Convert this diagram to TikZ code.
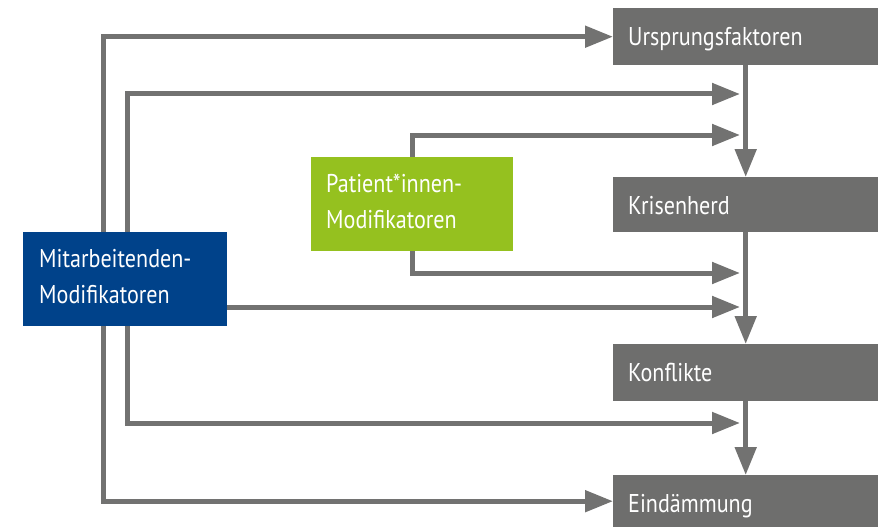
\documentclass[tikz,border=0pt]{standalone}
\usepackage{fontspec}
\setmainfont[FakeStretch=0.86]{PT Sans}
\usetikzlibrary{arrows.meta,backgrounds}
\definecolor{boxgray}{HTML}{6E6E6D}
\definecolor{linegray}{HTML}{727271}
\definecolor{mablue}{HTML}{00428A}
\definecolor{patgreen}{HTML}{95C11F}
\begin{document}
\begin{tikzpicture}[x=1pt,y=-1pt,
  stagebox/.style={fill=boxgray,text=white,minimum width=265pt,
    text height=37.5pt,text depth=#1-37.5pt,
    text width=235pt,align=left,inner xsep=15pt,inner ysep=0pt,anchor=north west,
    font=\fontsize{25.7}{36.5}\selectfont},
  modbox/.style={text=white,text width=172pt,align=left,inner xsep=16pt,inner ysep=0pt,
    text height=35pt,text depth=59pt,
    anchor=north west,font=\fontsize{25.7}{36.5}\selectfont},
  flow/.style={draw=linegray,line width=5pt,-{Triangle[length=28pt,width=21pt]}}]
\useasboundingbox (0,0) rectangle (879,527);
\node[stagebox=57pt] (u) at (613,8) {Ursprungsfaktoren};
\node[stagebox=55pt] (k) at (613,177) {Krisenherd};
\node[stagebox=57pt] (f) at (613,344) {Konflikte};
\node[stagebox=52pt] (e) at (613,475) {Eindämmung};
\node[modbox,fill=mablue,minimum width=203pt] (m) at (23,232) {Mitarbeitenden-\\Modifikatoren};
\node[modbox,fill=patgreen,minimum width=202pt,inner xsep=15pt] (p) at (311,157) {Patient*innen-\\Modifikatoren};
\coordinate (a1) at (740,94);
\coordinate (a2) at (740,135);
\coordinate (a3) at (740,273);
\coordinate (a4) at (740,307);
\coordinate (a5) at (740,423);
\begin{scope}[on background layer]
\draw[flow] (m.north -| 103,0) |- (u.west);
\draw[flow] (m.south -| 103,0) |- (e.west);
\draw[flow] (m.north -| 127,0) |- (a1);
\draw[flow] (m.south -| 127,0) |- (a5);
\draw[flow] (p.north -| 412,0) |- (a2);
\draw[flow] (p.south -| 412,0) |- (a3);
\draw[flow] (m.east |- a4) -- (a4);
\draw[flow] (u.south) -- (k.north);
\draw[flow] (k.south) -- (f.north);
\draw[flow] (f.south) -- (e.north);
\end{scope}
\end{tikzpicture}
\end{document}
